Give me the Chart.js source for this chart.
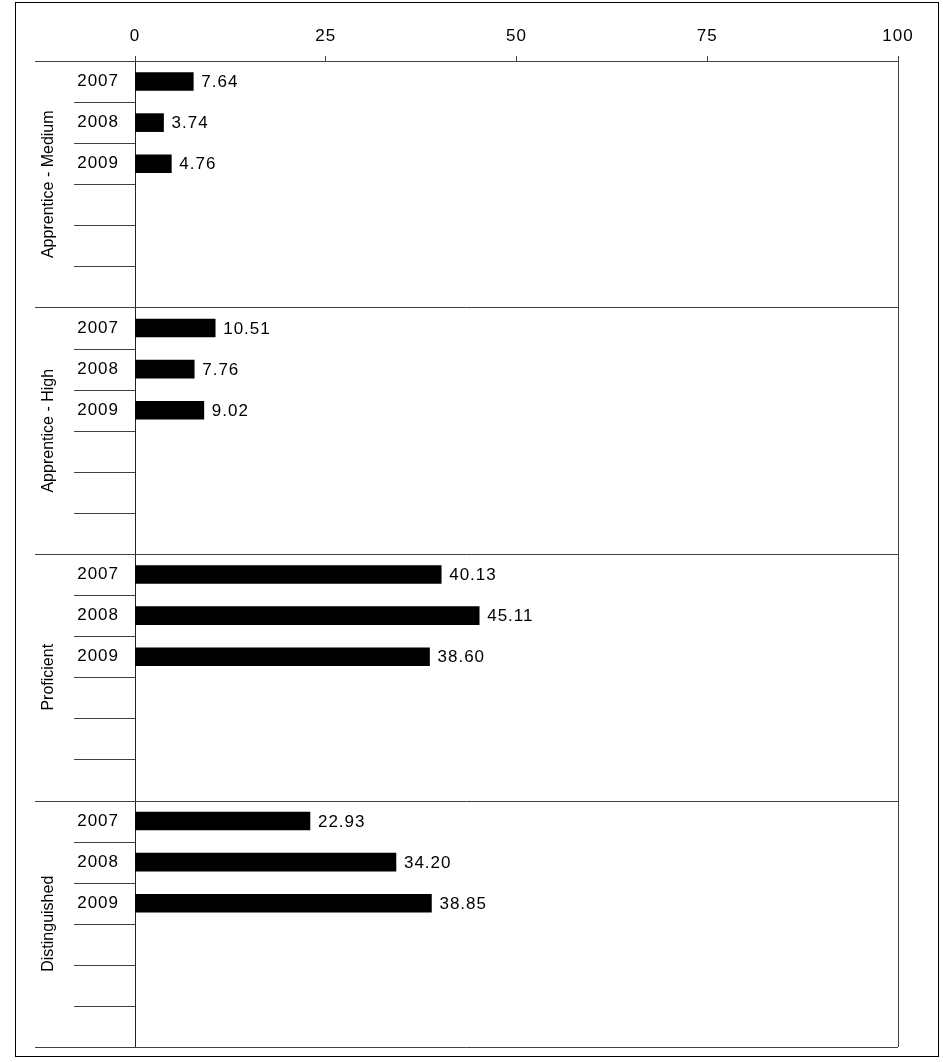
<!DOCTYPE html>
<html>
<head>
<meta charset="utf-8">
<title>Performance levels 2007-2009</title>
<script src="https://cdn.jsdelivr.net/npm/chart.js@4"></script>
<style>
  html, body { margin: 0; padding: 0; background: #fff; }
  #wrap { position: relative; width: 943px; height: 1062px; }
</style>
</head>
<body>
<div id="wrap"><canvas id="chart" width="943" height="1062"></canvas></div>
<script>
/* ---------- data ---------- */
const groups = ['Apprentice - Medium', 'Apprentice - High', 'Proficient', 'Distinguished'];
const years = ['2007', '2008', '2009'];
const slotsPerGroup = 6;   // 3 years + 3 empty rows in each block

const apprenticeMedium = [7.64, 3.74, 4.76];
const apprenticeHigh   = [10.51, 7.76, 9.02];
const proficient       = [40.13, 45.11, 38.60];
const distinguished    = [22.93, 34.20, 38.85];

const xTicks = [0, 25, 50, 75, 100];

/* ---------- build rows ---------- */
const groupValues = [apprenticeMedium, apprenticeHigh, proficient, distinguished];
const labels = [];
const values = [];
groupValues.forEach(vals => {
  for (let i = 0; i < slotsPerGroup; i++) {
    labels.push(years[i] || '');
    values.push(i < vals.length ? vals[i] : null);
  }
});

const LINE = '#404040';
const FONT = 'Arial, "Liberation Sans", sans-serif';

/* ---------- decorations: frame, separators, group labels, value labels ---------- */
const decor = {
  id: 'decor',
  beforeDraw(chart) {
    const ctx = chart.ctx;
    ctx.letterSpacing = '1px';
    ctx.save();
    ctx.strokeStyle = '#000';
    ctx.lineWidth = 1;
    ctx.strokeRect(15.5, 2.5, 923, 1054);
    ctx.restore();
  },
  afterDatasetsDraw(chart) {
    const { ctx, chartArea: a, scales: { y } } = chart;
    const step = y.getPixelForValue(1) - y.getPixelForValue(0);
    ctx.save();
    ctx.strokeStyle = LINE;
    ctx.lineWidth = 1;

    // row / group boundaries
    for (let i = 0; i <= labels.length; i++) {
      const py = Math.round(y.getPixelForValue(i) - step / 2) + 0.5;
      ctx.beginPath();
      if (i % slotsPerGroup === 0) {
        ctx.moveTo(35, py);
        ctx.lineTo(a.right, py);
      } else {
        ctx.moveTo(74, py);
        ctx.lineTo(a.left, py);
      }
      ctx.stroke();
    }
    // right edge of plot
    ctx.beginPath();
    ctx.moveTo(Math.round(a.right) + 0.5, a.top);
    ctx.lineTo(Math.round(a.right) + 0.5, a.bottom);
    ctx.stroke();

    // group names, rotated
    ctx.letterSpacing = '0px';
    ctx.fillStyle = '#000';
    ctx.font = '16px ' + FONT;
    ctx.textAlign = 'center';
    ctx.textBaseline = 'middle';
    groups.forEach((g, gi) => {
      const top = y.getPixelForValue(gi * slotsPerGroup) - step / 2;
      const cy = top + step * slotsPerGroup / 2;
      ctx.save();
      ctx.translate(49, cy);
      ctx.rotate(-Math.PI / 2);
      ctx.fillText(g, 0, 0);
      ctx.restore();
    });

    // value labels
    ctx.letterSpacing = '1px';
    ctx.font = '17px ' + FONT;
    ctx.textAlign = 'left';
    const meta = chart.getDatasetMeta(0);
    meta.data.forEach((bar, i) => {
      const v = values[i];
      if (v == null) return;
      ctx.fillText(v.toFixed(2), bar.x + 8, bar.y + 1);
    });
    ctx.restore();
  }
};

new Chart(document.getElementById('chart'), {
  type: 'bar',
  data: {
    labels,
    datasets: [{
      data: values,
      backgroundColor: '#000',
      borderWidth: 0,
      barThickness: 18
    }]
  },
  options: {
    indexAxis: 'y',
    responsive: false,
    animation: false,
    layout: { padding: { left: 0, right: 45, top: 0, bottom: 15 } },
    plugins: { legend: { display: false }, tooltip: { enabled: false } },
    scales: {
      x: {
        position: 'top',
        min: 0,
        max: 100,
        afterBuildTicks: s => { s.ticks = xTicks.map(v => ({ value: v })); },
        afterFit: s => { s.height = 61; s.paddingLeft = 0; s.paddingRight = 0; },
        grid: { drawOnChartArea: false, drawTicks: true, tickLength: 5, color: LINE, tickColor: LINE },
        border: { display: true, color: LINE },
        ticks: { color: '#000', font: { family: FONT, size: 17 }, padding: 9, maxRotation: 0 }
      },
      y: {
        afterFit: s => { s.width = 135; s.paddingTop = 0; s.paddingBottom = 0; },
        grid: { display: false, drawTicks: false },
        border: { display: true, color: '#222' },
        ticks: { color: '#000', font: { family: FONT, size: 17 }, padding: 16, autoSkip: false }
      }
    }
  },
  plugins: [decor]
});
</script>
</body>
</html>
